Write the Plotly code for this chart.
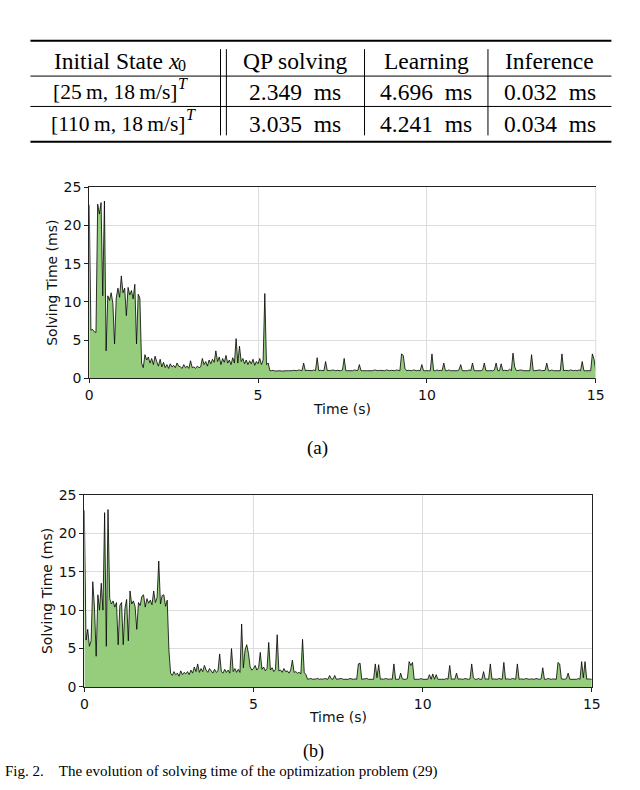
import plotly.graph_objects as go

# ---------------- data ----------------
sample_dt = 0.05  # seconds between samples

# (a) solving time, ms, one row per second of simulation
solve_time_a = [
    22.7, 6.3, 6.4, 6.1, 6.0, 22.8, 21.5, 23.0, 10.8, 23.2, 3.6, 10.8, 10.2, 11.2, 9.8, 4.5, 10.5, 11.8, 10.6, 13.4,
    11.2, 11.8, 8.2, 11.9, 10.9, 11.5, 10.4, 12.3, 4.5, 11.0, 10.5, 2.0, 1.4, 3.1, 2.4, 2.8, 2.0, 2.6, 1.8, 2.9,
    2.2, 1.6, 2.5, 1.5, 2.1, 1.4, 1.8, 1.3, 1.9, 1.5, 1.7, 1.4, 2.0, 1.6, 1.5, 1.3, 1.8, 1.4, 1.6, 1.3,
    2.3, 1.4, 1.5, 1.3, 1.6, 1.4, 1.5, 2.6, 1.8, 2.2, 1.6, 2.4, 1.9, 2.5, 2.1, 3.6, 2.2, 2.8, 1.8, 2.6,
    2.1, 3.0, 2.0, 2.4, 1.8, 2.7, 2.0, 5.2, 2.0, 4.2, 2.2, 2.6, 1.9, 2.4, 1.8, 2.3, 1.9, 2.5, 1.7, 2.2,
    1.9, 2.6, 1.8, 2.4, 11.1, 1.8, 2.0, 1.0, 1.0, 1.05, 0.95, 1.0, 1.05, 1.0, 0.95, 1.0, 1.05, 1.0, 1.0, 0.95,
    1.0, 1.05, 1.0, 1.0, 1.1, 1.0, 1.0, 2.0, 1.0, 1.05, 1.0, 1.0, 1.0, 1.1, 1.0, 2.7, 1.0, 1.05, 1.0, 1.0,
    2.2, 1.0, 1.05, 1.0, 1.1, 1.0, 1.0, 1.05, 1.0, 1.0, 1.1, 2.6, 1.0, 1.0, 1.05, 1.0, 1.0, 1.1, 1.0, 1.0,
    1.8, 1.0, 1.0, 1.05, 1.0, 1.0, 1.0, 1.05, 1.0, 1.1, 1.0, 1.0, 1.05, 1.0, 1.0, 1.0, 1.1, 1.0, 1.0, 1.05,
    1.0, 1.0, 1.1, 1.0, 1.0, 3.2, 3.0, 1.3, 1.0, 1.05, 1.0, 1.0, 1.1, 1.0, 1.0, 1.05, 1.0, 1.8, 1.0, 1.0,
    1.05, 1.0, 1.0, 3.2, 1.0, 1.0, 1.1, 1.0, 1.05, 1.0, 2.0, 1.0, 1.0, 1.1, 1.0, 1.0, 1.05, 1.0, 1.0, 1.1,
    1.8, 1.0, 1.05, 1.0, 1.0, 1.1, 1.0, 2.0, 1.0, 1.0, 1.05, 1.0, 1.0, 1.1, 2.0, 1.0, 1.0, 1.05, 1.0, 1.0,
    1.1, 2.0, 1.0, 1.0, 1.9, 1.0, 1.05, 1.0, 1.0, 1.2, 1.0, 3.3, 1.5, 1.0, 1.05, 1.0, 1.1, 1.0, 1.0, 1.05,
    1.0, 1.0, 3.1, 1.0, 1.0, 1.05, 1.0, 1.1, 1.0, 1.0, 1.05, 2.0, 1.0, 1.0, 1.1, 1.0, 1.0, 1.05, 1.0, 1.0,
    3.2, 1.0, 1.05, 1.0, 1.0, 1.1, 1.0, 1.0, 1.05, 1.0, 1.1, 1.0, 2.2, 1.0, 1.0, 1.05, 1.0, 1.0, 3.2, 2.5,
    1.0,
]

# (b) solving time, ms
solve_time_b = [
    23.0, 6.1, 7.5, 5.3, 6.0, 13.7, 10.3, 4.0, 12.0, 10.0, 13.5, 10.0, 22.7, 5.3, 23.1, 11.5, 10.8, 11.2, 10.4, 11.0,
    5.5, 10.6, 11.0, 5.5, 10.2, 11.4, 6.0, 12.5, 10.8, 11.2, 10.5, 7.5, 11.0, 10.6, 11.8, 12.0, 10.4, 11.5, 10.9, 11.3,
    10.7, 12.5, 11.0, 11.6, 16.4, 10.8, 11.9, 12.0, 10.5, 11.3, 4.8, 1.8, 1.5, 2.0, 1.6, 1.8, 1.4, 2.1, 1.6, 1.9,
    1.7, 2.0, 1.6, 2.2, 1.8, 2.6, 2.0, 3.0, 1.9, 2.4, 2.0, 2.8, 2.2, 1.9, 2.4, 2.0, 1.8, 2.3, 1.9, 2.1,
    4.3, 2.0, 1.8, 2.3, 1.9, 2.2, 1.8, 5.0, 2.0, 2.4, 1.9, 2.3, 1.9, 8.2, 2.5, 4.8, 5.5, 4.4, 2.6, 2.2,
    2.4, 2.8, 2.2, 2.5, 4.5, 2.3, 2.6, 2.1, 2.4, 5.8, 2.2, 2.5, 2.0, 2.3, 6.8, 2.1, 2.2, 1.9, 2.4, 2.0,
    2.1, 1.8, 2.2, 3.5, 1.9, 2.0, 1.8, 1.9, 1.7, 6.2, 1.9, 1.6, 1.0, 1.05, 1.1, 1.0, 1.0, 1.05, 1.1, 1.0,
    1.05, 1.0, 1.1, 1.0, 1.0, 1.5, 1.05, 1.0, 1.5, 1.0, 1.05, 1.0, 1.1, 1.0, 1.0, 1.05, 1.0, 1.1, 1.0, 1.0,
    1.05, 1.0, 3.0, 3.1, 1.0, 1.05, 1.0, 1.1, 1.0, 1.0, 1.05, 1.0, 3.0, 1.2, 2.9, 1.0, 1.05, 1.0, 1.1, 1.0,
    1.0, 1.05, 1.0, 3.0, 1.0, 1.0, 1.0, 1.8, 1.05, 1.0, 1.0, 1.1, 3.3, 2.8, 3.2, 1.0, 1.05, 1.0, 1.0, 1.1,
    1.0, 1.05, 1.0, 1.0, 1.6, 1.0, 1.7, 1.0, 1.6, 1.0, 1.05, 1.0, 1.0, 1.0, 1.1, 1.0, 2.8, 1.0, 1.05, 1.0,
    1.8, 1.0, 1.05, 1.0, 1.0, 1.1, 1.0, 1.0, 1.05, 3.0, 1.2, 1.0, 1.0, 1.1, 1.0, 1.0, 2.0, 1.0, 1.05, 1.0,
    3.0, 1.0, 1.05, 1.0, 1.0, 1.1, 1.0, 1.0, 3.2, 1.0, 1.05, 1.0, 1.0, 1.1, 1.0, 1.0, 3.0, 1.0, 1.05, 1.0,
    1.0, 1.1, 1.0, 1.0, 1.05, 1.0, 1.0, 1.1, 1.0, 1.0, 1.05, 2.5, 1.0, 1.0, 1.1, 1.0, 1.0, 1.05, 1.0, 1.0,
    3.2, 3.0, 1.05, 1.0, 1.0, 1.1, 1.8, 1.0, 1.0, 1.05, 1.0, 1.0, 1.1, 1.0, 3.3, 1.2, 3.3, 1.0, 1.05, 1.0,
    1.0,
]

x_ticks = [0, 5, 10, 15]
y_ticks = [0, 5, 10, 15, 20, 25]

table_header = ["Initial State", "QP solving", "Learning", "Inference"]
state_symbol = ("x", "0")          # italic symbol and its subscript
initial_states = ["[25\u2009m, 18\u2009m/s]", "[110\u2009m, 18\u2009m/s]"]
transpose_mark = "T"
qp_solving_ms = [2.349, 3.035]
learning_ms = [4.696, 4.241]
inference_ms = [0.032, 0.034]

caption_a = "(a)"
caption_b = "(b)"
fig_caption = "Fig. 2.\u00a0\u00a0\u00a0\u00a0The evolution of solving time of the optimization problem (29)"

# ---------------- layout helpers ----------------
W, H = 640, 790
def X(px):
    return px / W
def Y(py):
    return 1 - py / H

SERIF = "Liberation Serif, Times New Roman, serif"
SANS = "DejaVu Sans, sans-serif"
GREEN = "rgb(150,205,125)"
SPINE = "#222222"
GRID = "#dddddd"

t_a = [round(i * sample_dt, 4) for i in range(len(solve_time_a))]
t_b = [round(i * sample_dt, 4) for i in range(len(solve_time_b))]

fig = go.Figure()
fig.add_trace(go.Scatter(x=t_a, y=solve_time_a, mode="lines",
                         line=dict(color="black", width=0.8),
                         fill="tozeroy", fillcolor=GREEN,
                         xaxis="x", yaxis="y", showlegend=False, hoverinfo="skip"))
fig.add_trace(go.Scatter(x=t_b, y=solve_time_b, mode="lines",
                         line=dict(color="black", width=0.8),
                         fill="tozeroy", fillcolor=GREEN,
                         xaxis="x2", yaxis="y2", showlegend=False, hoverinfo="skip"))

def xaxis_cfg(dom, anchor):
    return dict(domain=dom, range=[0, 15], tickvals=x_ticks, ticktext=[str(v) for v in x_ticks],
                showgrid=True, gridcolor=GRID, gridwidth=1, zeroline=False,
                showline=True, linecolor=SPINE, linewidth=1, mirror=True,
                ticks="outside", ticklen=4, tickcolor=SPINE, tickwidth=1,
                tickfont=dict(family=SANS, size=14, color="#111111"), anchor=anchor)

def yaxis_cfg(dom, anchor, mirror):
    return dict(domain=dom, range=[0, 25], tickvals=y_ticks, ticktext=[str(v) for v in y_ticks],
                showgrid=True, gridcolor=GRID, gridwidth=1, zeroline=False,
                showline=True, linecolor=SPINE, linewidth=1, mirror=mirror,
                ticks="outside", ticklen=4, tickcolor=SPINE, tickwidth=1,
                tickfont=dict(family=SANS, size=14, color="#111111"), anchor=anchor)

ax_a = dict(l=87, r=604, t=183, b=378)
ax_b = dict(l=82, r=600, t=497, b=693)

fig.update_layout(
    width=W, height=H,
    margin=dict(l=0, r=0, t=0, b=0),
    paper_bgcolor="white", plot_bgcolor="white",
    xaxis=xaxis_cfg([X(ax_a["l"]), X(ax_a["r"])], "y"),
    yaxis=yaxis_cfg([Y(ax_a["b"]), Y(ax_a["t"])], "x", False),
    xaxis2=xaxis_cfg([X(ax_b["l"]), X(ax_b["r"])], "y2"),
    yaxis2=yaxis_cfg([Y(ax_b["b"]), Y(ax_b["t"])], "x2", True),
)

shapes = []
# light right edge of plot (a)
shapes.append(dict(type="line", xref="paper", yref="paper",
                   x0=X(ax_a["r"]), x1=X(ax_a["r"]), y0=Y(ax_a["b"]), y1=Y(ax_a["t"]),
                   line=dict(color=GRID, width=1), layer="above"))

# ---- table rules ----
tl, tr = 27, 620
for yy, w in [(33.5, 2), (69.5, 1), (100.5, 1), (136.5, 2)]:
    shapes.append(dict(type="line", xref="paper", yref="paper",
                       x0=X(tl), x1=X(tr), y0=Y(yy), y1=Y(yy),
                       line=dict(color="black", width=w)))
for xx in [221, 227, 368, 494]:
    shapes.append(dict(type="line", xref="paper", yref="paper",
                       x0=X(xx), x1=X(xx), y0=Y(42), y1=Y(130),
                       line=dict(color="black", width=1)))
fig.update_layout(shapes=shapes)

ann = []
col_x = [124, 297, 431, 557]
row_y = [54, 86, 118]
TFS = 23.5

def txt(xp, yp, s, size=TFS, anchor="center", style="normal", fam=SERIF):
    ann.append(dict(x=X(xp), y=Y(yp), xref="paper", yref="paper", text=s,
                    showarrow=False, xanchor=anchor, yanchor="middle",
                    font=dict(family=fam, size=size, color="black", style=style)))

# header row
txt(164, row_y[0], table_header[0], anchor="right")
txt(165, row_y[0], state_symbol[0], anchor="left", style="italic")
txt(176, row_y[0] + 5, state_symbol[1], size=16, anchor="left")
for cx, s in zip(col_x[1:], table_header[1:]):
    txt(cx, row_y[0], s)

# body rows
state_right = [179, 187]
for r in range(len(initial_states)):
    txt(state_right[r], row_y[r + 1], initial_states[r], size=21.5, anchor="right")
    txt(state_right[r] - 3, row_y[r + 1] - 9, transpose_mark, size=16, anchor="left", style="italic")
    vals = [f"{qp_solving_ms[r]:.3f}\u00a0\u00a0ms",
            f"{learning_ms[r]:.3f}\u00a0\u00a0ms",
            f"{inference_ms[r]:.3f}\u00a0\u00a0ms"]
    for cx, s in zip(col_x[1:], vals):
        txt(cx, row_y[r + 1], s)

# axis titles
for ax, ytx in [(ax_a, 49), (ax_b, 44)]:
    ann.append(dict(x=X(ytx), y=Y((ax["t"] + ax["b"]) / 2), xref="paper", yref="paper",
                    text="Solving Time (ms)", textangle=-90, showarrow=False,
                    xanchor="center", yanchor="middle",
                    font=dict(family=SANS, size=14, color="#111111")))
    ann.append(dict(x=X((ax["l"] + ax["r"]) / 2), y=Y(ax["b"] + 31), xref="paper", yref="paper",
                    text="Time (s)", showarrow=False, xanchor="center", yanchor="middle",
                    font=dict(family=SANS, size=14, color="#111111")))

# captions
txt(320, 449, caption_a, size=19)
txt(316, 759, caption_b, size=18)
ann.append(dict(x=X(-1), y=Y(790), xref="paper", yref="paper", text=fig_caption, showarrow=False,
                xanchor="left", yanchor="bottom", font=dict(family=SERIF, size=15, color="black")))

fig.update_layout(annotations=ann)

fig.write_html("out.html", config={"displayModeBar": False},
               post_script="document.body.style.margin='0';document.body.style.overflow='hidden';")
